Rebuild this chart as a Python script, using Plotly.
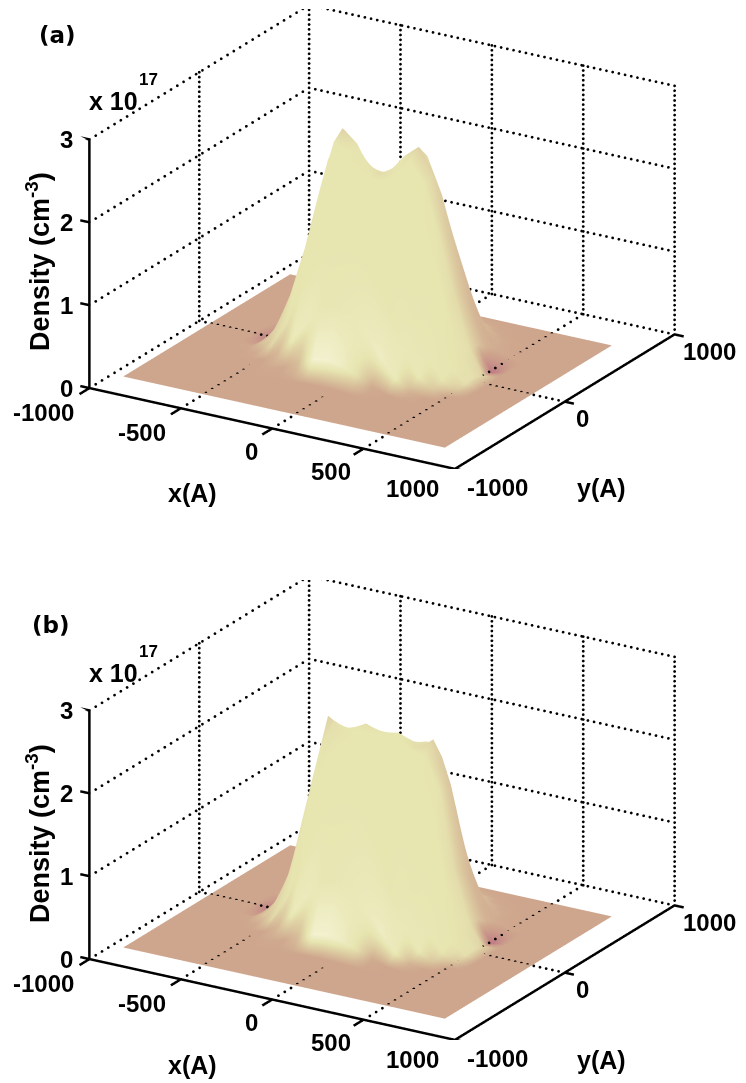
import numpy as np
import plotly.graph_objects as go

x_ticks = [-1000, -500, 0, 500, 1000]
y_ticks = [-1000, 0, 1000]
z_ticks = [0, 1, 2, 3]
x_vals = [-940, -700, -620, -540, -460, -380, -300, -220, -140, -60, 20, 100, 180, 260, 340, 420, 500, 580, 820]
y_vals = [-792, -552, -472, -392, -312, -232, -152, -72, 8, 88, 168, 248, 328, 408, 488, 568, 648, 728]

rows_a = [
    [0, 0, 0, .005, .015, .03, .045, .05, .045, .03, .015, .005, 0, 0, 0],
    [0, 0, .01, .035, .1, .19, .27, .3, .27, .19, .1, .035, .01, 0, 0],
    [0, .01, .045, .17, .38, .63, .83, .9, .83, .63, .38, .17, .045, .01, 0],
    [.005, .035, .17, .47, .9, 1.23, 1.48, 1.55, 1.47, 1.23, .9, .47, .17, .035, .005],
    [.015, .1, .38, .9, 1.44, 1.9, 2.08, 2.03, 1.96, 1.78, 1.39, .9, .38, .1, .015],
    [-.012, .19, .63, 1.23, 1.96, 2.6, 2.5, 2.15, 2.1, 2.03, 1.78, 1.23, .63, .19, .03],
    [-.03, .27, .83, 1.51, 2.28, 2.7, 2.55, 2.17, 2.15, 2.13, 2.0, 1.47, .83, .27, .045],
    [-.012, .3, .9, 1.58, 2.23, 2.5, 2.26, 2.17, 2.2, 2.42, 2.14, 1.57, .9, .3, 0],
    [.045, .27, .83, 1.48, 2.02, 2.15, 2.06, 2.12, 2.35, 2.5, 2.2, 1.5, .83, .27, -.03],
    [.03, .19, .63, 1.23, 1.78, 2.03, 2.0, 2.14, 2.35, 2.32, 1.89, 1.23, .63, .19, -.012],
    [.015, .1, .38, .9, 1.39, 1.78, 1.96, 2.02, 2.03, 1.85, 1.42, .9, .38, .1, .015],
    [.005, .035, .17, .47, .9, 1.23, 1.47, 1.56, 1.48, 1.23, .9, .47, .17, .035, .005],
    [0, .01, .045, .17, .38, .63, .83, .9, .83, .63, .38, .17, .045, .01, 0],
    [0, 0, .01, .035, .1, .19, .27, .3, .27, .19, .1, .035, .01, 0, 0],
    [0, 0, 0, .005, .015, .03, .045, .05, .045, .03, .015, .005, 0, 0, 0],
]
rows_b = [
    [0, 0, 0, .002, .01, .02, .035, .04, .035, .02, .01, .002, 0, 0, 0],
    [0, 0, .005, .025, .08, .15, .22, .25, .22, .15, .08, .025, .005, 0, 0],
    [0, .005, .035, .13, .34, .58, .78, .85, .78, .58, .34, .13, .035, .005, 0],
    [.002, .025, .13, .42, .85, 1.35, 1.7, 1.8, 1.7, 1.35, .85, .42, .13, .025, .002],
    [.01, .08, .34, .85, 1.6, 2.1, 2.32, 2.26, 2.23, 2.1, 1.6, .85, .34, .08, .01],
    [-.012, .15, .58, 1.35, 2.1, 2.5, 2.31, 2.36, 2.26, 2.18, 2.07, 1.35, .58, .15, .02],
    [-.03, .22, .78, 1.7, 2.46, 2.36, 2.37, 2.35, 2.27, 2.23, 2.06, 1.7, .78, .22, .035],
    [-.012, .25, .85, 1.8, 2.28, 2.28, 2.38, 2.3, 2.31, 2.18, 2.14, 1.8, .85, .25, 0],
    [.035, .22, .78, 1.7, 2.16, 2.23, 2.25, 2.23, 2.24, 2.13, 2.28, 1.7, .78, .22, -.03],
    [.02, .15, .58, 1.35, 2.1, 2.15, 2.13, 2.18, 2.1, 2.15, 2.0, 1.35, .58, .15, -.012],
    [.01, .08, .34, .85, 1.6, 2.03, 2.07, 2.05, 2.0, 2.0, 1.6, .85, .34, .08, .01],
    [.002, .025, .13, .42, .85, 1.35, 1.7, 1.8, 1.7, 1.35, .85, .42, .13, .025, .002],
    [0, .005, .035, .13, .34, .58, .78, .85, .78, .58, .34, .13, .035, .005, 0],
    [0, 0, .005, .025, .08, .15, .22, .25, .22, .15, .08, .025, .005, 0, 0],
    [0, 0, 0, .002, .01, .02, .035, .04, .035, .02, .01, .002, 0, 0, 0],
]
# surface tone: -1 pink, 0 tan, 1 cream, 2 near white
tone_a = [
    [0, 0, 0, 0, 0, 0, 0, 0, 0, 0, 0, 0, 0, 0, 0],
    [0, 0, 0, .05, .05, .4, 1.5, 1.5, 1.3, .9, .1, 0, 0, 0, 0],
    [0, 0, 0, .3, 1.2, 1.2, 1.05, 1.05, 1.1, 1.2, 1.3, 1.15, .2, 0, 0],
    [0, .1, .8, .95, 1, 1, 1, 1, 1, 1, 1, 1.1, 1.1, .45, 0],
    [.05, .6, .8, 1, 1, 1, 1, 1, 1, 1, 1, 1, 1.05, 1, .5],
    [-.4, .6, .8, .95, 1, 1, 1, 1, 1, 1, 1, 1, 1, 1, .9],
    [-1, .6, .8, .9, .95, .7, .95, 1, 1, 1, 1, 1, 1, .95, .9],
    [-.4, .7, .85, .9, .95, 1, 1, .85, 1, 1, 1, .95, .85, .9, .7],
    [.1, .7, .9, 1, 1, 1, 1, 1, 1, .7, .75, .6, .5, .5, -1],
    [.05, .6, .9, 1, 1, 1, 1, 1, 1, .85, .6, .45, .3, .2, -.4],
    [.05, .4, .9, 1, 1, 1, 1, 1, 1, .8, .5, .3, .2, .1, .03],
    [0, .1, .6, 1, 1, 1, 1, 1, 1, 1, .6, .4, .2, .05, 0],
    [0, .02, .2, .6, 1, 1, 1, 1, 1, 1, .7, .4, .1, .02, 0],
    [0, 0, .02, .1, .7, 1, 1, 1, 1, 1, .6, .1, .02, 0, 0],
    [0, 0, 0, .02, .1, .2, .3, .3, .3, .2, .1, .02, 0, 0, 0],
]
tone_b = [
    [0, 0, 0, 0, 0, 0, 0, 0, 0, 0, 0, 0, 0, 0, 0],
    [0, 0, 0, .05, .05, .4, 1.5, 1.5, 1.3, .9, .1, 0, 0, 0, 0],
    [0, 0, 0, .3, 1.2, 1.2, 1.05, 1.05, 1.1, 1.2, 1.3, 1.15, .2, 0, 0],
    [0, .1, .8, .95, 1, 1, 1, 1, 1, 1, 1, 1.1, 1.1, .45, 0],
    [.05, .6, .8, 1, 1, 1, 1, 1, 1, 1, 1, 1, 1.05, 1, .5],
    [-.4, .6, .8, .95, 1, .9, 1, 1, 1, 1, 1, 1, 1, 1, .9],
    [-1, .6, .8, .9, .7, 1, 1, 1, 1, 1, 1, 1, 1, .95, .9],
    [-.4, .7, .85, .9, 1, 1, .9, 1, 1, 1, 1, .95, .85, .9, .7],
    [.1, .7, .9, 1, 1, 1, 1, 1, 1, .85, .7, .6, .5, .5, -1],
    [.05, .6, .9, 1, 1, 1, 1, 1, 1, .9, .6, .45, .3, .2, -.4],
    [.05, .4, .9, 1, 1, 1, 1, 1, 1, .8, .5, .3, .2, .1, .03],
    [0, .1, .6, 1, 1, 1, 1, 1, 1, 1, .6, .4, .2, .05, 0],
    [0, .02, .2, .6, 1, 1, 1, 1, 1, 1, .7, .4, .1, .02, 0],
    [0, 0, .02, .1, .7, 1, 1, 1, 1, 1, .6, .1, .02, 0, 0],
    [0, 0, 0, .02, .1, .2, .3, .3, .3, .2, .1, .02, 0, 0, 0],
]


def full_grid(rows):
    empty = [0] * len(x_vals)
    return [empty, empty] + [[0, 0] + r + [0, 0] for r in rows] + [empty]


colorscale = [
    [0.0, "rgb(192,122,132)"],
    [1 / 3, "rgb(206,166,141)"],
    [2 / 3, "rgb(231,229,176)"],
    [1.0, "rgb(255,253,236)"],
]


def dotted(start, end, count):
    return [np.linspace(a, b, count).tolist() + [None] for a, b in zip(start, end)]


def traces(z, tone, scene):
    out = [go.Surface(x=x_vals, y=y_vals, z=full_grid(z), surfacecolor=full_grid(tone), scene=scene,
                      showscale=False, colorscale=colorscale, cmin=-1, cmax=2, hoverinfo="skip",
                      lighting=dict(ambient=1.0, diffuse=0, specular=0, roughness=.5, fresnel=0))]
    xlo, xhi, ylo, yhi = x_ticks[0], x_ticks[-1], y_ticks[0], y_ticks[-1]
    ztop = z_ticks[-1]
    segs = []
    for t in z_ticks:
        segs.append(((xlo, ylo, t), (xlo, yhi, t), 36))
        segs.append(((xlo, yhi, t), (xhi, yhi, t), 60))
    for t in y_ticks[1:]:
        segs.append(((xlo, t, 0), (xlo, t, ztop), 52))
    for t in x_ticks[1:]:
        segs.append(((t, yhi, 0), (t, yhi, ztop), 52))
    for t in x_ticks[1:-1]:
        segs.append(((t, ylo, 0), (t, yhi, 0), 36))
    segs.append(((xlo, y_ticks[1], 0), (xhi, y_ticks[1], 0), 60))
    gx, gy, gz = [], [], []
    for a, b, n in segs:
        sx, sy, sz = dotted(a, b, n)
        gx += sx; gy += sy; gz += sz
    out.append(go.Scatter3d(x=gx, y=gy, z=gz, mode="markers", scene=scene, showlegend=False, hoverinfo="skip",
                            marker=dict(color="black", size=1.6, symbol="circle", line=dict(width=0))))
    ax, ay, az = [xlo, xhi, xhi, None, xlo, xlo], [ylo, ylo, yhi, None, ylo, ylo], [0, 0, 0, None, 0, ztop]
    for t in x_ticks:
        ax += [None, t, t]; ay += [None, ylo, ylo - 90]; az += [None, 0, 0]
    for t in y_ticks:
        ax += [None, xhi, xhi + 50]; ay += [None, t, t]; az += [None, 0, 0]
    for t in z_ticks:
        ax += [None, xlo, xlo - 50]; ay += [None, ylo, ylo]; az += [None, t, t]
    out.append(go.Scatter3d(x=ax, y=ay, z=az, mode="lines", scene=scene, showlegend=False, hoverinfo="skip",
                            line=dict(color="black", width=5)))
    return out


fig = go.Figure(traces(rows_a, tone_a, "scene") + traces(rows_b, tone_b, "scene2"))

FONT = dict(family="Liberation Sans", size=24, color="black", weight="bold")


def tick_notes():
    notes = []
    for t, (dx, dy) in zip(x_ticks, [(-46, -24), (-39, -24), (-21, -23), (-33, -23), (-42, -20)]):
        notes.append(dict(x=t, y=y_ticks[0], z=0, text=str(t), xshift=dx, yshift=dy))
    for t, (dx, dy) in zip(y_ticks, [(43, -19), (18, -17), (35, -17)]):
        notes.append(dict(x=x_ticks[-1], y=t, z=0, text=str(t), xshift=dx, yshift=dy))
    for t in z_ticks:
        notes.append(dict(x=x_ticks[0], y=y_ticks[0], z=t, text=str(t), xshift=-23, yshift=0))
    for n in notes:
        n.update(showarrow=False, font=FONT, xanchor="center", yanchor="middle")
    return notes


K = 1.854
scene_common = dict(
    xaxis=dict(visible=False, range=[-1100, 1100]),
    yaxis=dict(visible=False, range=[-1100, 1100]),
    zaxis=dict(visible=False, range=[-.05, 3]),
    aspectmode="manual",
    aspectratio=dict(x=1.1 * K, y=1.1 * K, z=.6375 * K),
    camera=dict(projection=dict(type="orthographic"), up=dict(x=0, y=0, z=1),
                center=dict(x=0, y=0, z=0),
                eye=dict(x=.479 * 3, y=-.797 * 3, z=.368 * 3)),
    annotations=tick_notes(),
    bgcolor="white",
)
# the page body has an 8 px margin, so the figure fills what is left of the window
W = 738.0
H = 1075.0
PAGE = 8


def paper(text, px, py, size=25, family="Liberation Sans", angle=0):
    return dict(text=text, x=(px - PAGE) / W, y=1 - (py - PAGE) / H, xref="paper", yref="paper", showarrow=False,
                xanchor="center", yanchor="middle", textangle=angle,
                font=dict(family=family, size=size, color="black", weight="bold"))


notes = []
for off, lab, lab_x, lab_y in [(0, "(a)", 57, 35), (572, "(b)", 51, 625)]:
    notes += [
        paper(lab, lab_x, lab_y, 23, "DejaVu Sans"),
        paper("x 10", 113, 101 + off, 25),
        paper("17", 148, 79 + off, 17),
        paper("x(A)", 192, 493 + off, 25),
        paper("y(A)", 601, 488 + off, 25),
        paper("Density (cm<sup>-3</sup>)", 38, 262 + off, 27, angle=-90),
    ]

fig.update_layout(
    width=738, height=1075, margin=dict(l=0, r=0, t=0, b=0), paper_bgcolor="white",
    showlegend=False, annotations=notes,
    scene=dict(scene_common, domain=dict(x=[24 / W, 724 / W], y=[1 - 461 / H, 1 - 1 / H])),
    scene2=dict(scene_common, domain=dict(x=[24 / W, 724 / W], y=[1 - 1032 / H, 1 - 572 / H])),
)
fig.write_html("out.html")
